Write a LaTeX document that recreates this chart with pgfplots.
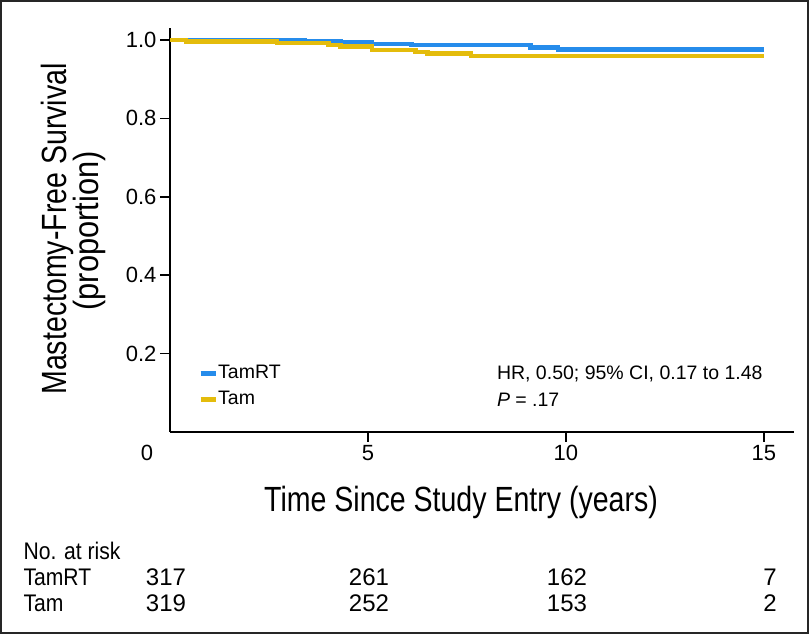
\documentclass[border=0pt]{standalone}
\usepackage{pgfplots}
\pgfplotsset{compat=1.18}
\usepackage{fontspec}
\setmainfont{Liberation Sans}
\newfontfamily\condensed[FakeStretch=0.815]{Liberation Sans}
\newfontfamily\condensedb[FakeStretch=0.88]{Liberation Sans}
\definecolor{tamrt}{RGB}{38,140,235}
\definecolor{tam}{RGB}{228,188,12}

\begin{document}
\begin{tikzpicture}[x=1pt,y=1pt]
\useasboundingbox (0,0) rectangle (809,634);
\draw[line width=2pt, black!85] (1,1) rectangle (808,633);
\begin{axis}[
  at={(170pt,202pt)}, anchor=south west,
  scale only axis, width=624pt, height=403.76pt,
  xmin=0, xmax=15.76, ymin=0, ymax=1.03,
  axis x line*=bottom, axis y line*=left,
  axis line style={line width=2pt, black},
  tick style={line width=1.5pt, black},
  tick align=outside, major tick length=10pt,
  xtick={5,10,15}, ytick={0.2,0.4,0.6,0.8,1.0},
  yticklabel style={/pgf/number format/.cd, fixed, fixed zerofill, precision=1},
  ticklabel style={font=\fontsize{22}{26}\selectfont},
  /pgf/number format/assume math mode=true,
  extra x ticks={0}, extra x tick labels={\makebox[0pt]{\hspace*{-46pt}0}},
  extra x tick style={major tick length=0pt, tick label style={yshift=-10pt}},
  clip=false,
  legend style={at={(0.0449,0.1139)}, anchor=west, draw=none, fill=none,
    font=\fontsize{19.5}{22}\selectfont, inner sep=0pt, row sep=8pt,
    nodes={inner sep=0pt, text height=14pt, text depth=4pt},
    /tikz/every even column/.append style={column sep=7pt}},
  legend cell align=left,
  legend image code/.code={\draw[#1, line width=5pt] (0pt,0pt) -- (15pt,0pt);},
]
\addplot[const plot, color=tamrt, line width=4.5pt] coordinates {
  (0,1.000) (3.4,0.998) (4.3,0.995) (5.1,0.990) (6.1,0.987) (9.1,0.981) (9.8,0.976) (15,0.976)};
\addlegendentry{TamRT}
\addplot[const plot, color=tam, line width=4.5pt] coordinates {
  (0,1.000) (0.4,0.996) (2.7,0.992) (4.0,0.987) (4.3,0.983) (5.1,0.974) (6.2,0.970) (6.5,0.966) (7.6,0.959) (15,0.959)};
\addlegendentry{Tam}
\node[anchor=base west, font=\fontsize{19.5}{22}\selectfont] at (axis cs:8.17,0.1327) {HR, 0.50; 95\% CI, 0.17 to 1.48};
\node[anchor=base west, font=\fontsize{19.5}{22}\selectfont] at (axis cs:8.17,0.0663) {\textit{P} = .17};
\end{axis}
% axis titles
\node[rotate=90, anchor=base, font=\condensed\fontsize{35}{40}\selectfont] at (66,405) {Mastectomy-Free Survival};
\node[rotate=90, anchor=base, font=\condensedb\fontsize{35}{40}\selectfont] at (98,403) {(proportion)};
\node[anchor=base, font=\condensed\fontsize{35}{40}\selectfont] at (461,122) {Time Since Study Entry (years)};
% number at risk table
\node[anchor=base west, font=\condensedb\fontsize{24}{28}\selectfont] at (20,74) {No. at risk};
\node[anchor=base west, font=\condensedb\fontsize{24}{28}\selectfont] at (20,48.5) {TamRT};
\node[anchor=base west, font=\condensedb\fontsize{24}{28}\selectfont] at (20,22) {Tam};
\foreach \x/\a/\b in {166/317/319, 369/261/252, 567/162/153, 770/7/2} {
  \node[anchor=base, font=\fontsize{24}{28}\selectfont] at (\x,48.5) {\a};
  \node[anchor=base, font=\fontsize{24}{28}\selectfont] at (\x,22) {\b};
}
\end{tikzpicture}
\end{document}
